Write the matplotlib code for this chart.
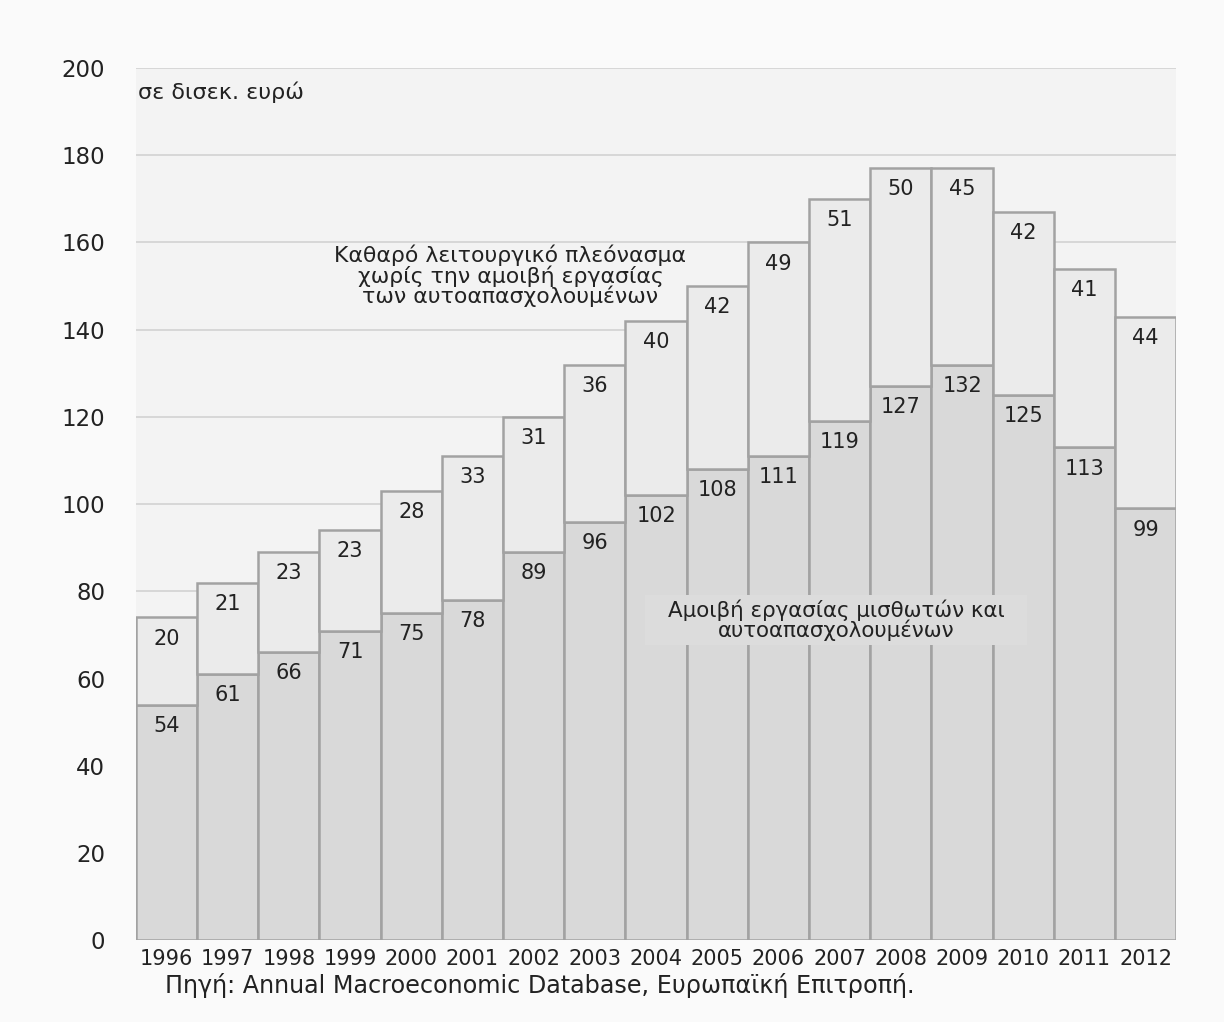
import numpy as np
from matplotlib import pyplot as plt
from matplotlib.patches import Rectangle

years = ['1996', '1997', '1998', '1999', '2000', '2001', '2002', '2003', '2004',
         '2005', '2006', '2007', '2008', '2009', '2010', '2011', '2012']
# compensation of employees and self-employed (bn euro)
wages = [54, 61, 66, 71, 75, 78, 89, 96, 102, 108, 111, 119, 127, 132, 125, 113, 99]
# net operating surplus without self-employed compensation
surplus = [20, 21, 23, 23, 28, 33, 31, 36, 40, 42, 49, 51, 50, 45, 42, 41, 44]
yticks = [0, 20, 40, 60, 80, 100, 120, 140, 160, 180, 200]

plt.rcParams['font.family'] = ['DejaVu Sans']
txtColor = '#222222'

fig = plt.figure(figsize=(12.24, 10.22), dpi=100, facecolor='#fafafa')
ax = fig.add_axes([0.111, 0.080, 0.850, 0.8535])
ax.set_facecolor('#f3f3f3')

x = np.arange(len(years))
ax.set_axisbelow(True)
ax.yaxis.grid(True, color='#d2d2d2', linewidth=1.2)

barsLow = ax.bar(x, wages, width=1.0, color='#d9d9d9', edgecolor='#a2a2a2', linewidth=1.8)
barsHigh = ax.bar(x, surplus, bottom=wages, width=1.0, color='#ebebeb',
                  edgecolor='#a2a2a2', linewidth=1.8)

for i in range(len(years)):
    ax.annotate(str(wages[i]), (x[i], wages[i]), xytext=(0, -8), textcoords='offset points',
                ha='center', va='top', fontsize=15, color=txtColor)
    ax.annotate(str(surplus[i]), (x[i], wages[i] + surplus[i]), xytext=(0, -8),
                textcoords='offset points', ha='center', va='top', fontsize=15, color=txtColor)

ax.set_xlim(-0.5, len(years) - 0.5)
ax.set_ylim(0, 200)
ax.set_yticks(yticks)
ax.set_xticks(x)
ax.set_xticklabels(years)
ax.tick_params(axis='y', length=0, pad=22, labelsize=16.5, labelcolor=txtColor)
ax.tick_params(axis='x', length=0, pad=6, labelsize=15, labelcolor=txtColor)
for s in ax.spines.values():
    s.set_visible(False)

ax.text(0.002, 0.985, 'σε δισεκ. ευρώ', transform=ax.transAxes, ha='left', va='top',
        fontsize=16, color=txtColor)

ax.text(5.62, 152.3, 'Καθαρό λειτουργικό πλεόνασμα\nχωρίς την αμοιβή εργασίας\nτων αυτοαπασχολουμένων',
        ha='center', va='center', fontsize=15.8, color=txtColor, linespacing=0.95)

# shaded box behind the lower label
ax.add_patch(Rectangle((7.82, 67.7), 6.24, 11.4, facecolor='#dcdcdc', edgecolor='none', zorder=3))
ax.text(10.95, 73.4, 'Αμοιβή εργασίας μισθωτών και\nαυτοαπασχολουμένων', ha='center', va='center',
        fontsize=15.4, color=txtColor, linespacing=0.95, zorder=4)

fig.text(0.135, 0.036, 'Πηγή: Annual Macroeconomic Database, Ευρωπαϊκή Επιτροπή.',
         ha='left', va='center', fontsize=17.2, color=txtColor)

fig.savefig('out.png', dpi=100, facecolor=fig.get_facecolor())
